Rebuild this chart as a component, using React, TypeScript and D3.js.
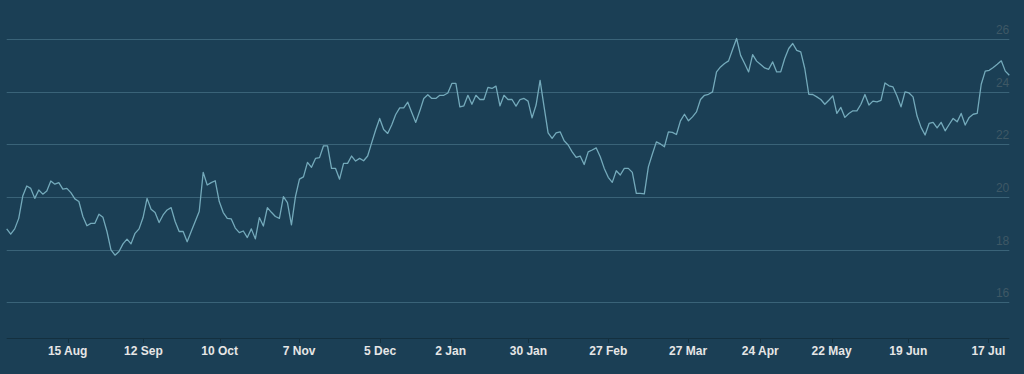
import React from 'react';
import * as d3 from 'd3';

// One value per trading day (ordinal x axis)
const prices: number[] = [
  18.79, 18.59, 18.79, 19.19, 20.04, 20.42, 20.33, 19.95, 20.27, 20.11,
  20.23, 20.61, 20.49, 20.55, 20.30, 20.33, 20.17, 19.93, 19.83, 19.26,
  18.91, 19.00, 19.00, 19.35, 19.23, 18.69, 17.99, 17.79, 17.93, 18.22,
  18.40, 18.22, 18.62, 18.79, 19.22, 19.95, 19.54, 19.41, 19.03, 19.32,
  19.51, 19.60, 19.07, 18.69, 18.69, 18.30, 18.69, 19.07, 19.45, 20.94,
  20.46, 20.55, 20.62, 19.83, 19.41, 19.19, 19.17, 18.82, 18.65, 18.71,
  18.46, 18.79, 18.41, 19.22, 18.90, 19.60, 19.42, 19.26, 19.19, 20.02,
  19.79, 18.94, 20.02, 20.68, 20.77, 21.32, 21.13, 21.47, 21.50, 21.95,
  21.95, 21.09, 21.09, 20.68, 21.28, 21.28, 21.56, 21.37, 21.47, 21.38,
  21.56, 22.06, 22.55, 22.99, 22.57, 22.42, 22.74, 23.14, 23.39, 23.39,
  23.61, 23.22, 22.84, 23.27, 23.75, 23.89, 23.75, 23.75, 23.87, 23.87,
  23.96, 24.32, 24.32, 23.43, 23.47, 23.87, 23.53, 23.87, 23.71, 23.71,
  24.17, 24.13, 24.22, 23.47, 23.87, 23.71, 23.71, 23.46, 23.71, 23.75,
  23.65, 23.01, 23.50, 24.44, 23.43, 22.44, 22.23, 22.44, 22.48, 22.14,
  21.98, 21.72, 21.51, 21.56, 21.24, 21.72, 21.79, 21.87, 21.53, 21.09,
  20.75, 20.56, 21.00, 20.84, 21.09, 21.09, 20.94, 20.14, 20.14, 20.12,
  21.15, 21.64, 22.10, 22.02, 21.91, 22.48, 22.46, 22.38, 22.90, 23.15,
  22.90, 23.05, 23.24, 23.71, 23.87, 23.91, 24.00, 24.76, 24.95, 25.08,
  25.18, 25.61, 26.03, 25.39, 25.08, 24.76, 25.42, 25.17, 25.04, 24.91,
  24.86, 25.14, 24.76, 24.76, 25.27, 25.65, 25.84, 25.58, 25.52, 24.89,
  23.91, 23.90, 23.81, 23.71, 23.53, 23.68, 23.85, 23.18, 23.41, 23.03,
  23.18, 23.28, 23.28, 23.53, 23.90, 23.50, 23.65, 23.62, 23.68, 24.34,
  24.23, 24.19, 23.84, 23.43, 24.00, 23.96, 23.81, 23.08, 22.65, 22.36,
  22.80, 22.84, 22.63, 22.84, 22.52, 22.76, 22.99, 22.86, 23.18, 22.74,
  23.03, 23.15, 23.18, 24.29, 24.79, 24.82, 24.93, 25.05, 25.18, 24.79,
  24.63,
];

const tickLabels: string[] = [
  '15 Aug', '12 Sep', '10 Oct', '7 Nov', '5 Dec', '2 Jan', '30 Jan',
  '27 Feb', '27 Mar', '24 Apr', '22 May', '19 Jun', '17 Jul',
];
// ordinal position (trading-day index) of each tick
const tickPositions: number[] = [
  15.2, 34.1, 53.1, 72.9, 93.1, 110.7, 130.1, 150.0, 169.9, 187.9, 205.7, 224.8, 244.8,
];
const yTicks: number[] = [16, 18, 20, 22, 24, 26];

export default function App() {
  const W = 1024;
  const H = 374;
  const left = 6.7;
  const right = 1009.3;
  const bottom = 338;
  const x = d3.scaleLinear().domain([0, prices.length - 1]).range([left, right]);
  const y = d3.scaleLinear().domain([14.64, 26]).range([bottom, 39.3]);
  const line = d3
    .line<number>()
    .x((_, i) => x(i))
    .y((d) => y(d));
  const font = "'Liberation Sans', Arial, Helvetica, sans-serif";
  const crisp = (v: number) => Math.round(v) + 0.5;

  return (
    <div
      style={{
        position: 'fixed',
        left: 0,
        top: 0,
        width: W,
        height: H,
        background: '#1b3f55',
      }}
    >
      <svg width={W} height={H} style={{ display: 'block' }}>
        <rect x={0} y={0} width={W} height={H} fill="#1b3f55" />
        {yTicks.map((t) => (
          <g key={t}>
            <line
              x1={left}
              x2={right}
              y1={crisp(y(t))}
              y2={crisp(y(t))}
              stroke="#3a6378"
              strokeWidth={1}
            />
            <text
              x={right}
              y={y(t) - 5}
              textAnchor="end"
              fontFamily={font}
              fontSize={12}
              fill="#3e5865"
            >
              {t}
            </text>
          </g>
        ))}
        <line
          x1={left}
          x2={right}
          y1={crisp(bottom)}
          y2={crisp(bottom)}
          stroke="#14303f"
          strokeWidth={1}
        />
        {tickPositions.map((p, i) => (
          <g key={tickLabels[i]}>
            <line
              x1={crisp(x(p))}
              x2={crisp(x(p))}
              y1={bottom}
              y2={bottom + 5}
              stroke="#14303f"
              strokeWidth={1}
            />
            <text
              x={x(p)}
              y={355}
              textAnchor="middle"
              fontFamily={font}
              fontSize={12}
              fontWeight="bold"
              fill="#e6e6e6"
            >
              {tickLabels[i]}
            </text>
          </g>
        ))}
        <path
          d={line(prices) || ''}
          fill="none"
          stroke="#74aabb"
          strokeWidth={1.3}
          strokeLinejoin="round"
        />
      </svg>
    </div>
  );
}
